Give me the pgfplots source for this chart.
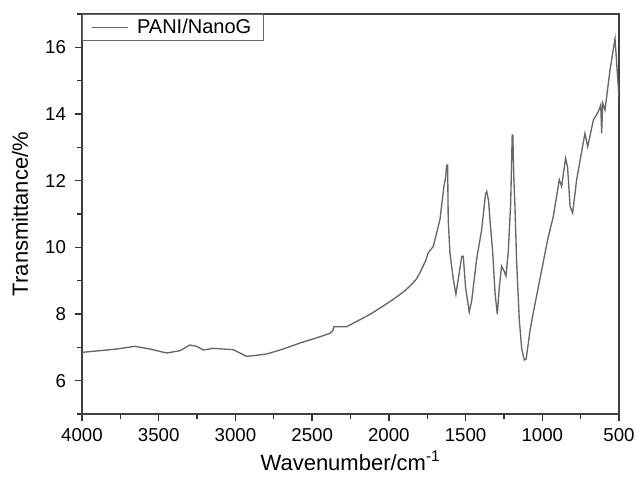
\documentclass[border=0pt]{standalone}
\usepackage{fontspec}
\setmainfont{Liberation Sans}
\usepackage{pgfplots}
\pgfplotsset{compat=1.18}

\pgfplotstableread{
w T
4000 6.85
3883 6.90
3774 6.95
3655 7.03
3557 6.95
3448 6.83
3361 6.90
3296 7.07
3252 7.03
3209 6.92
3144 6.97
3014 6.93
2927 6.73
2883 6.75
2796 6.80
2688 6.95
2579 7.13
2460 7.30
2384 7.42
2365 7.50
2358 7.62
2330 7.62
2275 7.62
2200 7.80
2123 7.99
2050 8.20
1971 8.44
1900 8.68
1862 8.84
1820 9.05
1797 9.24
1760 9.60
1743 9.84
1710 10.03
1667 10.83
1641 11.83
1630 12.10
1623 12.47
1617 12.47
1613 10.83
1602 9.84
1580 9.04
1563 8.59
1541 9.24
1525 9.73
1515 9.73
1500 8.80
1476 8.06
1460 8.40
1428 9.64
1395 10.53
1370 11.60
1362 11.68
1350 11.40
1341 10.83
1323 9.84
1308 8.64
1293 7.99
1280 8.80
1265 9.44
1250 9.30
1237 9.14
1222 9.84
1206 11.33
1196 13.37
1192 13.37
1185 12.00
1178 11.23
1167 9.54
1150 7.84
1134 6.95
1117 6.62
1105 6.65
1080 7.50
1063 7.94
1020 8.94
965 10.23
928 10.93
889 12.03
874 11.83
848 12.67
835 12.40
819 11.23
802 11.03
776 12.03
722 13.42
704 13.02
667 13.82
635 14.07
619 14.27
613 13.42
606 14.32
591 14.12
559 15.31
526 16.26
500 14.50
}\spectrum

\begin{document}
\begin{tikzpicture}
\begin{axis}[
scale only axis,
width=402.75pt,
height=300pt,
x dir=reverse,
xmin=500,xmax=4000,
ymin=5,ymax=17,
xtick={500,1000,...,4000},
ytick={6,8,...,16},
minor xtick={750,1250,...,3750},
minor ytick={5,7,...,17},
tick align=outside,
tick pos=left,
major tick length=5.5pt,
minor tick length=3.5pt,
axis line style={draw=black!75,line width=1.2pt},
every tick/.style={black!80,line width=1pt},
ticklabel style={font=\fontsize{14}{16}\selectfont},
xticklabel style={yshift=-2pt},
yticklabel style={xshift=-3pt},
/pgf/number format/assume math mode=true,
/pgf/number format/1000 sep={},
xlabel={Wavenumber/cm\textsuperscript{-1}},
ylabel={Transmittance/\%},
label style={font=\fontsize{16.5}{18}\selectfont},
ylabel style={yshift=6pt},
legend style={at={(0,1)},anchor=north west,draw=black!60,line width=0.6pt,
  font=\fontsize{15}{17}\selectfont,inner xsep=7pt,inner ysep=1.5pt,row sep=0pt},
legend cell align=left,
legend image code/.code={\draw[#1] (0cm,0cm) -- (0.95cm,0cm);},
/tikz/every odd column/.append style={column sep=4pt},
]
\addplot[color=black!60,line width=1pt] table[x=w,y=T] {\spectrum};
\addlegendentry{PANI/NanoG}
\end{axis}
\pgfresetboundingbox
\path (current axis.south west) ++(-61.5pt,-49.5pt) rectangle ([xshift=12.75pt,yshift=10.5pt]current axis.north east);
\end{tikzpicture}
\end{document}
